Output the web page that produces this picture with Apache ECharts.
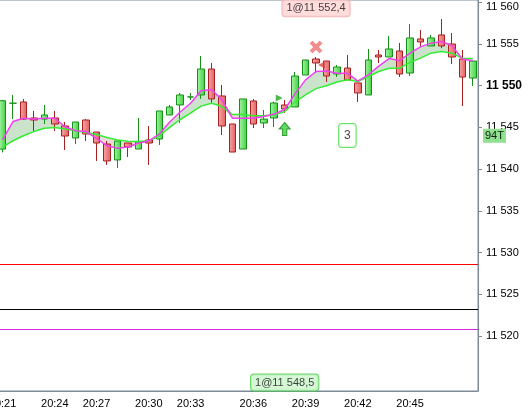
<!DOCTYPE html>
<html><head><meta charset="utf-8">
<script src="https://cdn.jsdelivr.net/npm/echarts@6/dist/echarts.min.js"></script>
<style>html,body{margin:0;padding:0;background:#fff}#c{width:528px;height:411px}</style>
</head><body><div id="c"></div>
<script>
// ---- data ----
const barTimes = ['20:21','','','','','20:24','','','','20:27','','','','','20:30','','','','20:33','','','','','','20:36','','','','','20:39','','','','','20:42','','','','','20:45','','','','','',''];
const opens  = [11542.4,11547.9,11548.05,11546.13,11546.0,11546.13,11545.17,11543.73,11545.89,11544.45,11543.01,11541.1,11543.13,11542.41,11543.49,11543.61,11546.49,11547.69,11548.65,11548.89,11552.0,11548.77,11545.41,11542.41,11548.17,11545.53,11546.13,11547.69,11547.45,11551.28,11553.2,11552.96,11551.4,11552.12,11550.33,11548.89,11553.68,11553.44,11554.16,11551.52,11555.6,11554.76,11556.08,11555.0,11553.2,11550.92];
const closes = [11548.2,11547.9,11546.0,11545.89,11546.49,11545.41,11543.97,11545.65,11544.21,11543.13,11540.98,11543.37,11542.65,11543.25,11543.13,11546.97,11547.45,11548.89,11548.65,11552.0,11548.41,11545.17,11542.05,11548.41,11545.41,11546.0,11547.93,11547.21,11551.16,11553.08,11552.72,11551.16,11552.24,11550.69,11549.13,11553.08,11553.44,11554.4,11551.4,11555.72,11555.24,11555.72,11554.76,11553.44,11551.04,11552.96];
const lows   = [11542.0,11546.0,11545.9,11544.57,11545.41,11544.57,11542.29,11543.01,11543.37,11540.98,11540.5,11540.14,11541.46,11542.41,11540.5,11542.89,11546.49,11545.53,11548.29,11548.41,11547.93,11544.09,11542.05,11542.41,11544.93,11544.93,11545.05,11546.73,11547.45,11551.28,11551.52,11550.45,11551.04,11550.69,11548.05,11548.89,11552.72,11553.44,11551.04,11551.16,11554.76,11554.76,11554.5,11552.6,11547.57,11549.97];
const highs  = [11548.3,11548.9,11548.4,11546.97,11547.69,11546.97,11545.65,11545.65,11546.0,11544.45,11543.37,11543.37,11543.13,11546.13,11545.17,11546.97,11547.69,11549.13,11549.13,11553.56,11552.72,11550.09,11545.41,11548.41,11548.41,11547.09,11548.1,11548.29,11551.64,11553.08,11553.44,11552.96,11552.48,11553.68,11550.33,11554.4,11554.28,11555.96,11555.12,11557.4,11556.68,11556.08,11557.99,11556.32,11554.28,11552.96];
const fastMA = [11543.5,11545.7,11546.1,11546.0,11546.1,11546.1,11545.05,11544.6,11544.5,11543.7,11542.8,11542.5,11542.65,11543.1,11543.4,11544.2,11545.65,11546.85,11547.9,11549.4,11549.55,11548.3,11546.1,11546.1,11546.1,11546.3,11546.6,11547.15,11549.05,11550.7,11551.7,11551.75,11551.5,11551.5,11550.55,11551.3,11552.35,11553.25,11553.0,11553.9,11554.65,11555.1,11555.3,11554.8,11553.2,11553.0];
const slowMA = [11542.65,11543.4,11544.0,11544.5,11544.9,11545.0,11544.8,11544.6,11544.4,11544.15,11543.8,11543.5,11543.35,11543.3,11543.4,11544.0,11545.0,11545.95,11546.7,11547.55,11547.9,11547.5,11546.55,11546.55,11546.4,11546.4,11546.5,11546.9,11548.05,11548.9,11549.65,11550.0,11550.45,11550.7,11550.5,11551.1,11551.7,11552.1,11552.1,11552.8,11553.3,11553.9,11554.1,11553.9,11553.3,11553.25];
const levelLines = [11528.6, 11523.25, 11520.8];
const levelColors = ['#ff0000', '#000000', '#dd22dd'];
const yTicks = [11520, 11525, 11530, 11535, 11540, 11545, 11550, 11555, 11560];
const boldTick = 11550;
const sellMark = [30, 11554.64];
const buyArrow = [27, 11544.81];
const rightTri = [26, 11548.53];
const leftTri = [31, 11552.48];
const sellLabel = [30, 11559.28, '1@11 552,4'];
const buyLabel = [27, 11514.43, '1@11 548,5'];
const countLabel = [33, 11544.03, '3'];
const tickCountLabel = [11544.0, '94T'];

// ---- derived ----
const candleData = opens.map((o, i) => [o, closes[i], lows[i], highs[i]]);
const bandBase = fastMA.map((f, i) => Math.min(f, slowMA[i]));
const bandUp = fastMA.map((f, i) => Math.max(f - slowMA[i], 0));
const bandDn = fastMA.map((f, i) => Math.max(slowMA[i] - f, 0));
const fmt = v => Math.floor(v / 1000) + ' ' + String(Math.round(v % 1000)).padStart(3, '0');
const FONT = "'Liberation Sans', Arial, sans-serif";
const AX = '#7d8b99';

const chart = echarts.init(document.getElementById('c'), null, {renderer: 'canvas'});
chart.setOption({
  animation: false,
  backgroundColor: '#ffffff',
  textStyle: {fontFamily: FONT},
  grid: {left: -2.7, right: 50, top: 0, bottom: 20, outerBoundsMode: 'none', containLabel: false, show: true, borderColor: AX, borderWidth: 1, backgroundColor: 'transparent'},
  xAxis: {
    type: 'category', data: barTimes.map((t, i) => String(i)), boundaryGap: true,
    axisLine: {lineStyle: {color: AX}},
    axisTick: {length: 4, alignWithLabel: true, interval: (i) => barTimes[i] !== '', lineStyle: {color: AX}},
    axisLabel: {interval: (i) => barTimes[i] !== '', formatter: (v, i) => barTimes[i], fontSize: 11, color: '#000', margin: 7, fontFamily: FONT},
    splitLine: {show: false}
  },
  yAxis: {
    type: 'value', position: 'right', min: 11513.41, max: 11560.27, scale: true,
    axisLine: {show: true, lineStyle: {color: AX}},
    axisTick: {show: true, length: 4, customValues: yTicks, lineStyle: {color: AX}},
    axisLabel: {
      customValues: yTicks, fontSize: 11, color: '#000', margin: 8, fontFamily: FONT,
      formatter: v => v === boldTick ? '{b|' + fmt(v) + '}' : (v === yTicks[yTicks.length - 1] ? '{t|' + fmt(v) + '}' : fmt(v)),
      rich: {b: {fontWeight: 'bold', fontSize: 12, color: '#000', fontFamily: FONT}, t: {padding: [9, 0, 0, 0], fontSize: 11, color: '#000', fontFamily: FONT}}
    },
    splitLine: {show: false}
  },
  series: [
    {type: 'line', data: bandBase, stack: 'band', symbol: 'none', lineStyle: {opacity: 0}, silent: true, z: 1},
    {type: 'line', data: bandUp, stack: 'band', symbol: 'none', lineStyle: {opacity: 0}, areaStyle: {color: 'rgba(60,150,60,0.38)'}, silent: true, z: 1},
    {type: 'line', data: bandDn, stack: 'band', symbol: 'none', lineStyle: {opacity: 0}, areaStyle: {color: 'rgba(160,80,80,0.3)'}, silent: true, z: 1},
    {
      type: 'candlestick', data: candleData, barWidth: 7, z: 3,
      itemStyle: {
        color: new echarts.graphic.LinearGradient(0, 0, 1, 0, [{offset: 0, color: '#a8f5a8'}, {offset: 1, color: '#3fd03f'}]),
        color0: new echarts.graphic.LinearGradient(0, 0, 1, 0, [{offset: 0, color: '#f8a8a8'}, {offset: 1, color: '#e05e5e'}]),
        borderColor: '#169016', borderColor0: '#a82020', borderColorDoji: '#169016', borderWidth: 1
      },
      markLine: {
        silent: true, symbol: ['none', 'none'],
        data: levelLines.map((v, i) => ({yAxis: v, lineStyle: {color: levelColors[i], width: 1, type: 'solid'}, label: {show: false}}))
          .concat([{yAxis: tickCountLabel[0], lineStyle: {color: 'rgba(0,0,0,0)', width: 1}, label: {show: true, position: 'end', distance: 5, formatter: tickCountLabel[1], backgroundColor: '#8fe08f', color: '#102010', fontSize: 11, padding: [2, 2, 1, 2], fontFamily: FONT}}])
      }
    },
    {type: 'line', data: slowMA, symbol: 'none', lineStyle: {color: '#33ee33', width: 1.5}, z: 4, silent: true},
    {type: 'line', data: fastMA, symbol: 'none', lineStyle: {color: '#f040f0', width: 1.5}, z: 5, silent: true},
    {
      type: 'scatter', z: 6, silent: true,
      data: [
        {value: sellMark, symbol: 'path://M2,0 L5,3 L8,0 L10,2 L7,5 L10,8 L8,10 L5,7 L2,10 L0,8 L3,5 L0,2 Z', symbolSize: 12, itemStyle: {color: '#f07070', borderColor: '#e05050', borderWidth: 0.5}},
        {value: buyArrow, symbol: 'path://M5,0 L10,6 L7,6 L7,12 L3,12 L3,6 L0,6 Z', symbolSize: [11, 13], itemStyle: {color: '#3ccf3c', borderColor: '#138a13', borderWidth: 1}},
        {value: rightTri, symbol: 'triangle', symbolRotate: -90, symbolSize: [7, 7], symbolOffset: [5, 0], itemStyle: {color: '#22aa22'}},
        {value: leftTri, symbol: 'triangle', symbolRotate: 90, symbolSize: [7, 7], symbolOffset: [-5, 0], itemStyle: {color: '#dd4444'}}
      ]
    },
    {
      type: 'scatter', z: 7, silent: true, symbol: 'rect', symbolSize: 1, itemStyle: {color: 'rgba(0,0,0,0)'},
      data: [
        {value: sellLabel.slice(0, 2), label: {show: true, position: 'inside', formatter: sellLabel[2], color: '#111', fontSize: 11, backgroundColor: '#ffd4d4', borderColor: '#f4a8a8', borderWidth: 1, borderRadius: 3, padding: [3, 4, 2, 4], fontFamily: FONT}},
        {value: buyLabel.slice(0, 2), label: {show: true, position: 'inside', formatter: buyLabel[2], color: '#111', fontSize: 11, backgroundColor: '#ccf5cc', borderColor: '#44cc44', borderWidth: 1, borderRadius: 3, padding: [3, 4, 2, 4], fontFamily: FONT}},
        {value: countLabel.slice(0, 2), label: {show: true, position: 'inside', formatter: countLabel[2], color: '#111', fontSize: 12, backgroundColor: '#ffffff', borderColor: '#44dd44', borderWidth: 1, borderRadius: 3, padding: [6, 5, 5, 5], fontFamily: FONT}}
      ]
    }
  ]
});
</script></body></html>
